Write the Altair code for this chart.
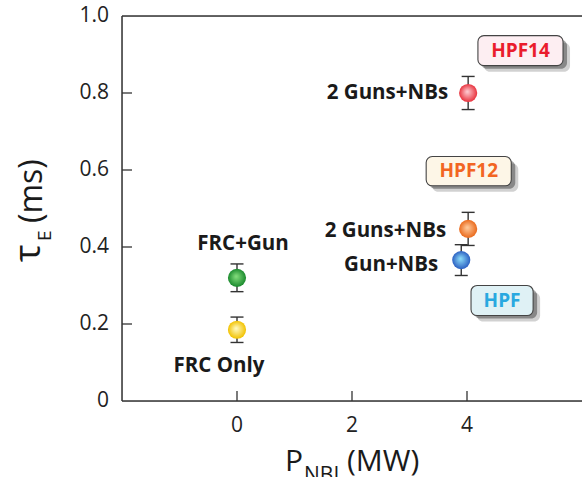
import altair as alt
import pandas as pd

# ---- data ----
labels = ["FRC Only", "FRC+Gun", "Gun+NBs", "2 Guns+NBs", "2 Guns+NBs"]
p_nbi = [0.0, 0.0, 3.9, 4.02, 4.02]
tau_e = [0.185, 0.32, 0.366, 0.447, 0.80]
tau_err = [0.033, 0.036, 0.040, 0.043, 0.043]
outer = ["#f2c200", "#1b8a2e", "#2b5fc2", "#ea6a1c", "#e8333e"]
inner = ["#fffbc8", "#86e07e", "#8fe0fa", "#ffcda0", "#ffd0d6"]

box_text = ["HPF14", "HPF12", "HPF"]
box_x0 = [4.19, 3.29, 4.07]
box_x1 = [5.67, 4.77, 5.15]
box_y0 = [0.871, 0.559, 0.222]
box_y1 = [0.949, 0.635, 0.300]
box_fill = ["#fdeef2", "#fdf6e7", "#dff1f5"]
box_ink = ["#ea1c2d", "#f26522", "#29a8e0"]

x_ticks = [0, 2, 4]
x_tick_labels = ["0", "2", "4"]
y_ticks = [0, 0.2, 0.4, 0.6, 0.8, 1.0]
y_tick_labels = ["0", "0.2", "0.4", "0.6", "0.8", "1.0"]

W, H = 460, 385
FONT = "Open Sans"
INK = "#1a1a1a"
AX = "#333"

df = pd.DataFrame({"label": labels, "p": p_nbi, "tau": tau_e, "err": tau_err})
df["lo"] = df["tau"] - df["err"]
df["hi"] = df["tau"] + df["err"]

bx = pd.DataFrame({"t": box_text, "x0": box_x0, "x1": box_x1, "y0": box_y0,
                   "y1": box_y1})
bx["xc"] = (bx["x0"] + bx["x1"]) / 2
bx["yc"] = (bx["y0"] + bx["y1"]) / 2

xs = alt.Scale(domain=[-2, 6], nice=False, zero=False)
ys = alt.Scale(domain=[0, 1], nice=False, zero=False)


def X(f):
    return alt.X(f, scale=xs, axis=None)


def Y(f):
    return alt.Y(f, scale=ys, axis=None)


base = alt.Chart(df)
one = alt.Chart(pd.DataFrame({"a": [0]}))

# frame: left, bottom, top
left_line = one.mark_rule(color=AX, strokeWidth=1.5).encode(
    x=alt.value(0), y=alt.value(0), y2=alt.value(H))
bottom_line = one.mark_rule(color=AX, strokeWidth=1.5).encode(
    x=alt.value(0), x2=alt.value(W), y=alt.value(H))
top_line = one.mark_rule(color=AX, strokeWidth=1.5).encode(
    x=alt.value(0), x2=alt.value(W), y=alt.value(0))

xt = pd.DataFrame({"v": x_ticks, "s": x_tick_labels})
yt = pd.DataFrame({"v": y_ticks, "s": y_tick_labels})
xtick = alt.Chart(xt).mark_rule(color=AX, strokeWidth=1.3).encode(
    x=X("v:Q"), y=alt.value(H), y2=alt.value(H - 10))
ytick = alt.Chart(yt.iloc[1:-1]).mark_rule(color=AX, strokeWidth=1.3).encode(
    y=Y("v:Q"), x=alt.value(0), x2=alt.value(10))
xlab = alt.Chart(xt).mark_text(font=FONT, fontSize=21, color="#222", baseline="middle",
                               align="center").encode(
    x=X("v:Q"), y=alt.value(H + 25), text="s:N")
ylab = alt.Chart(yt).mark_text(font=FONT, fontSize=21, color="#222", baseline="middle",
                               align="right").encode(
    y=Y("v:Q"), x=alt.value(-13), text="s:N")

err_v = base.mark_rule(color=AX, strokeWidth=1.4).encode(
    x=X("p:Q"), y=Y("lo:Q"), y2="hi:Q")
cap_lo = base.mark_rule(color=AX, strokeWidth=1.4, xOffset=-6.5, x2Offset=6.5).encode(
    x=X("p:Q"), x2="p:Q", y=Y("lo:Q"))
cap_hi = base.mark_rule(color=AX, strokeWidth=1.4, xOffset=-6.5, x2Offset=6.5).encode(
    x=X("p:Q"), x2="p:Q", y=Y("hi:Q"))

points = []
for i in range(len(df)):
    g = alt.Gradient(gradient="radial",
                     stops=[alt.GradientStop(color=inner[i], offset=0),
                            alt.GradientStop(color=outer[i], offset=1)],
                     x1=0.45, y1=0.42, r1=0, x2=0.5, y2=0.5, r2=0.5)
    points.append(alt.Chart(df.iloc[[i]]).mark_circle(size=330, fill=g, opacity=1).encode(
        x=X("p:Q"), y=Y("tau:Q")))

label_style = [
    dict(align="center", dx=-18, dy=36),
    dict(align="center", dx=6, dy=-34),
    dict(align="right", dx=-23, dy=5),
    dict(align="right", dx=-22, dy=2),
    dict(align="right", dx=-20, dy=0),
]
texts = []
for i, st in enumerate(label_style):
    texts.append(alt.Chart(df.iloc[[i]]).mark_text(
        font=FONT, fontSize=20.5, fontWeight="bold", color=INK, baseline="middle", **st
    ).encode(x=X("p:Q"), y=Y("tau:Q"), text="label:N"))

fill_scale = alt.Scale(domain=box_text, range=box_fill)
ink_scale = alt.Scale(domain=box_text, range=box_ink)
bb = alt.Chart(bx)
shadow1 = bb.mark_rect(cornerRadius=6, color="#000", opacity=0.18, xOffset=6, x2Offset=7,
                       yOffset=6, y2Offset=7).encode(
    x=X("x0:Q"), x2="x1:Q", y=Y("y0:Q"), y2="y1:Q")
shadow2 = bb.mark_rect(cornerRadius=6, color="#000", opacity=0.35, xOffset=3, x2Offset=4,
                       yOffset=3, y2Offset=4).encode(
    x=X("x0:Q"), x2="x1:Q", y=Y("y0:Q"), y2="y1:Q")
boxes = bb.mark_rect(cornerRadius=6, stroke="#444", strokeWidth=1.1, opacity=1).encode(
    x=X("x0:Q"), x2="x1:Q", y=Y("y0:Q"), y2="y1:Q",
    fill=alt.Fill("t:N", scale=fill_scale, legend=None))
box_lbl = bb.mark_text(font=FONT, fontSize=19, fontWeight="bold", baseline="middle").encode(
    x=X("xc:Q"), y=Y("yc:Q"), text="t:N",
    color=alt.Color("t:N", scale=ink_scale, legend=None))

tstyle = dict(font=FONT, color=INK, baseline="alphabetic", align="left")
xt_p = one.mark_text(text="P", fontSize=30, **tstyle).encode(x=alt.value(163), y=alt.value(455))
xt_s = one.mark_text(text="NBI", fontSize=21, **tstyle).encode(x=alt.value(182), y=alt.value(466))
xt_u = one.mark_text(text="(MW)", fontSize=30, **tstyle).encode(x=alt.value(225), y=alt.value(455))
yt_t = one.mark_text(text="τ", fontSize=37, angle=270, **tstyle).encode(x=alt.value(-82), y=alt.value(246))
yt_s = one.mark_text(text="E", fontSize=19, angle=270, **tstyle).encode(x=alt.value(-71), y=alt.value(225))
yt_u = one.mark_text(text="(ms)", fontSize=32, angle=270, **tstyle).encode(x=alt.value(-80), y=alt.value(207))

chart = alt.layer(
    left_line, bottom_line, top_line, xtick, ytick, xlab, ylab,
    shadow1, shadow2, boxes, box_lbl,
    err_v, cap_lo, cap_hi, *points, *texts,
    xt_p, xt_s, xt_u, yt_t, yt_s, yt_u
).properties(
    width=W, height=H,
    autosize=alt.AutoSizeParams(type="none"),
    padding={"left": 122, "top": 16, "right": 0, "bottom": 76},
).configure_view(stroke=None).configure(background="white")

chart.save("out.html", embed_options={"renderer": "svg", "actions": False})
